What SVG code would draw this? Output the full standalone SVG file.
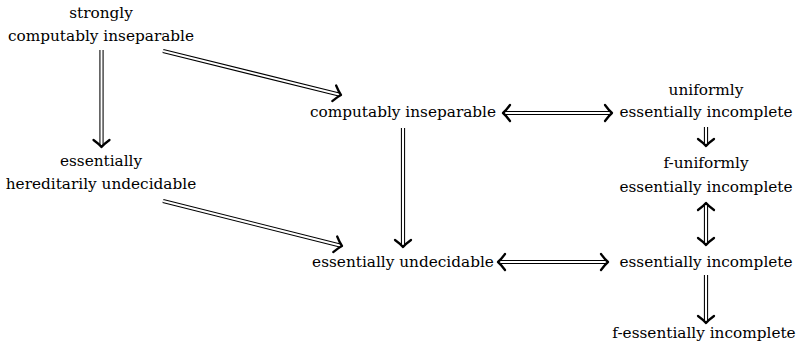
<svg xmlns="http://www.w3.org/2000/svg" width="799" height="351" viewBox="0 0 799 351">
<style>
text{font-family:'DejaVu Serif','Liberation Serif',serif;font-size:15.3px;fill:#000;text-anchor:middle}
.o{fill:none;stroke:#000;stroke-width:4.2}
.i{fill:none;stroke:#fff;stroke-width:2.1}
.h{fill:none;stroke:#000;stroke-width:2.3;stroke-linecap:round;stroke-linejoin:round}
</style>
<defs>
<path id="hd" class="h" d="M-7,-8 Q-3,-2.5 0,0 Q-3,2.5 -7,8"/>
</defs>
<rect width="799" height="351" fill="#fff"/>
<g id="n1"><text x="101" y="18">strongly</text><text x="101" y="41">computably inseparable</text></g>
<g id="n2"><text x="101" y="166">essentially</text><text x="101" y="189">hereditarily undecidable</text></g>
<g id="n3"><text x="403" y="117">computably inseparable</text></g>
<g id="n4"><text x="403" y="267">essentially undecidable</text></g>
<g id="n5"><text x="706" y="95">uniformly</text><text x="706" y="117">essentially incomplete</text></g>
<g id="n6"><text x="706" y="168">f-uniformly</text><text x="706" y="192">essentially incomplete</text></g>
<g id="n7"><text x="706" y="267">essentially incomplete</text></g>
<g id="n8"><text x="704" y="338">f-essentially incomplete</text></g>
<g id="connectors">
<path class="o" d="M101.5,50V145 M163,51L339,94.5 M163,201L340,245.5 M403,128V245 M505,113H610 M500,262H606 M706,127V144 M706,205V243 M706,275V321"/>
<path class="i" d="M101.5,50V145 M163,51L339,94.5 M163,201L340,245.5 M403,128V245 M505,113H610 M500,262H606 M706,127V144 M706,205V243 M706,275V321"/>
<use href="#hd" transform="translate(101.5,147) rotate(90)"/>
<use href="#hd" transform="translate(341,95) rotate(13.9)"/>
<use href="#hd" transform="translate(342,246) rotate(14.3)"/>
<use href="#hd" transform="translate(403,247) rotate(90)"/>
<use href="#hd" transform="translate(503,113) rotate(180)"/>
<use href="#hd" transform="translate(612,113)"/>
<use href="#hd" transform="translate(498,262) rotate(180)"/>
<use href="#hd" transform="translate(608,262)"/>
<use href="#hd" transform="translate(706,146) rotate(90)"/>
<use href="#hd" transform="translate(706,203) rotate(-90)"/>
<use href="#hd" transform="translate(706,245) rotate(90)"/>
<use href="#hd" transform="translate(706,323) rotate(90)"/>
</g>
</svg>
